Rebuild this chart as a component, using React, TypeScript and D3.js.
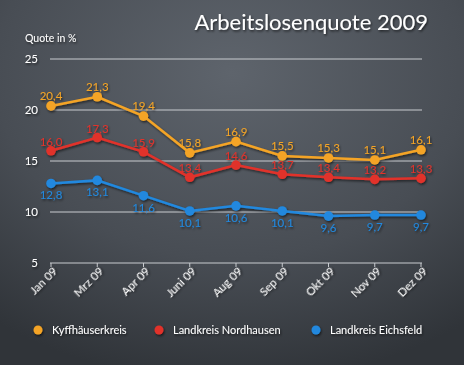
import React from 'react';
import * as d3 from 'd3';

const months = ['Jan 09', 'Mrz 09', 'Apr 09', 'Juni 09', 'Aug 09', 'Sep 09', 'Okt 09', 'Nov 09', 'Dez 09'];
const kyffhaeuser = [20.4, 21.3, 19.4, 15.8, 16.9, 15.5, 15.3, 15.1, 16.1];
const nordhausen = [16.0, 17.3, 15.9, 13.4, 14.6, 13.7, 13.4, 13.2, 13.3];
const eichsfeld = [12.8, 13.1, 11.6, 10.1, 10.6, 10.1, 9.6, 9.7, 9.7];
const yTicks = [5, 10, 15, 20, 25];
const seriesNames = ['Kyffhäuserkreis', 'Landkreis Nordhausen', 'Landkreis Eichsfeld'];

const W = 464;
const H = 365;
const font = 'Lato, "Open Sans", sans-serif';

const App: React.FC = () => {
  const x = d3.scalePoint<string>().domain(months).range([51, 421]);
  const y = d3.scaleLinear().domain([5, 25]).range([263, 59]);
  const fmt = (v: number) => v.toFixed(1).replace('.', ',');

  const series = [
    { name: seriesNames[0], values: kyffhaeuser, color: '#f4a425', labelDy: -6 },
    { name: seriesNames[1], values: nordhausen, color: '#e1322b', labelDy: -5 },
    { name: seriesNames[2], values: eichsfeld, color: '#2088de', labelDy: 16 },
  ];

  const line = d3.line<number>()
    .x((_, i) => x(months[i])!)
    .y(d => y(d));

  const legendX = [38, 159, 316];

  return (
    <svg width={W} height={H} style={{ position: 'absolute', left: 0, top: 0, display: 'block' }}>
      <defs>
        <radialGradient id="bg" cx="0.5" cy="0.2" r="0.85">
          <stop offset="0" stopColor="#5e646c" />
          <stop offset="0.6" stopColor="#484d54" />
          <stop offset="1" stopColor="#303439" />
        </radialGradient>
        <filter id="sh" x="-20%" y="-20%" width="140%" height="140%">
          <feDropShadow dx="1" dy="1.5" stdDeviation="1" floodColor="#000" floodOpacity="0.6" />
        </filter>
      </defs>
      <rect width={W} height={H} fill="url(#bg)" />

      <text x={428} y={30} textAnchor="end" fill="#fff" fontFamily={font} fontSize={22}
        filter="url(#sh)">Arbeitslosenquote 2009</text>
      <text x={25} y={42} fill="#fff" fontFamily={font} fontSize={10.5} filter="url(#sh)">Quote in %</text>

      {yTicks.map(t => (
        <g key={t}>
          <line x1={50} x2={422} y1={y(t)} y2={y(t)} stroke="#c9ccd0" strokeWidth={1} />
          <text x={38} y={y(t) + 4} textAnchor="end" fill="#fff" fontFamily={font} fontSize={11.5}
            filter="url(#sh)">{t}</text>
        </g>
      ))}
      {months.map(m => (
        <g key={m}>
          <line x1={x(m)} x2={x(m)} y1={y(5)} y2={y(5) + 4} stroke="#c9ccd0" />
          <text transform={`translate(${x(m)! + 7},${y(5) + 9}) rotate(-45)`} textAnchor="end"
            fill="#fff" fontFamily={font} fontSize={11.5} filter="url(#sh)">{m}</text>
        </g>
      ))}

      {series.map(s => (
        <g key={s.name} filter="url(#sh)">
          <path d={line(s.values)!} fill="none" stroke={s.color} strokeWidth={2.5} />
          {s.values.map((v, i) => (
            <circle key={i} cx={x(months[i])} cy={y(v)} r={4.8} fill={s.color} />
          ))}
          {s.values.map((v, i) => (
            <text key={'t' + i} x={x(months[i])} y={y(v) + s.labelDy} textAnchor="middle"
              fill={s.color} fontFamily={font} fontSize={11.5}>{fmt(v)}</text>
          ))}
        </g>
      ))}

      {series.map((s, i) => (
        <g key={'l' + s.name} filter="url(#sh)">
          <circle cx={legendX[i]} cy={330} r={4.5} fill={s.color} />
          <text x={legendX[i] + 14} y={334} fill="#fff" fontFamily={font} fontSize={11}>{s.name}</text>
        </g>
      ))}
    </svg>
  );
};

export default App;
